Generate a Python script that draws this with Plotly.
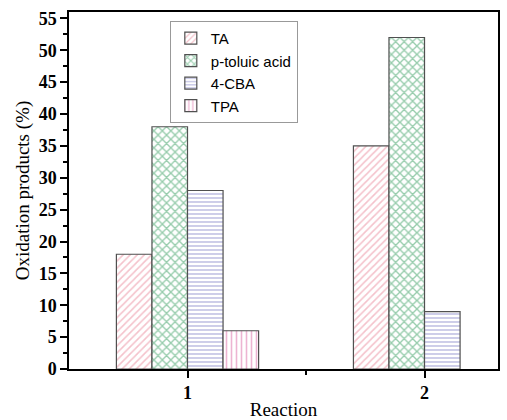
import plotly.graph_objects as go

reactions = [1, 2]
series_names = ["TA", "p-toluic acid", "4-CBA", "TPA"]
ta = [18, 35]
ptoluic = [38, 52]
cba = [28, 9]
tpa = [6, None]
y_ticks = [0, 5, 10, 15, 20, 25, 30, 35, 40, 45, 50, 55]

series_values = [ta, ptoluic, cba, tpa]
fg_colors = ["#e98598", "#2f9a5a", "#5a5ab5", "#dc6aa5"]
shapes = ["/", "x", "-", "|"]
sizes = [5, 6, 4, 5]
solid = [0.32, 0.4, 0.3, 0.32]

fig = go.Figure()
for name, vals, col, shp, sz, so in zip(series_names, series_values, fg_colors, shapes, sizes, solid):
    fig.add_trace(go.Bar(
        x=reactions, y=vals, name=name,
        marker=dict(color="white",
                    line=dict(color="#505050", width=1.2),
                    pattern=dict(shape=shp, fgcolor=col, bgcolor="white",
                                 size=sz, solidity=so, fillmode="overlay")),
    ))

tickfont = dict(family="Liberation Serif", size=18, color="black")
fig.update_layout(
    width=507, height=420,
    margin=dict(l=69, r=9, t=12, b=51),
    paper_bgcolor="white", plot_bgcolor="white",
    barmode="group", bargap=0.4, bargroupgap=0,
    showlegend=True,
    legend=dict(x=0.235, y=0.975, xanchor="left", yanchor="top",
                bgcolor="white", bordercolor="#999999", borderwidth=1,
                font=dict(family="Liberation Sans", size=15, color="black"),
                tracegroupgap=0, itemwidth=30),
    font=dict(family="Liberation Serif", color="black"),
)
fig.update_xaxes(
    range=[0.5, 2.31], tickvals=reactions, ticktext=[f"<b>{r}</b>" for r in reactions],
    tickfont=tickfont, automargin=False,
    ticks="outside", ticklen=7, tickwidth=1.5, tickcolor="black",
    minor=dict(tickvals=[1.5], ticks="outside", ticklen=4, tickwidth=1.5, tickcolor="black"),
    showline=True, linecolor="black", linewidth=1.5, mirror=True,
    showgrid=False, zeroline=False,
    title=dict(text="Reaction", font=dict(family="Liberation Serif", size=19, color="black"), standoff=9),
)
fig.update_yaxes(
    range=[0, 56], tickvals=y_ticks, ticktext=[f"<b>{v}</b>" for v in y_ticks],
    tickfont=tickfont, automargin=False,
    ticks="outside", ticklen=7, tickwidth=1.5, tickcolor="black",
    minor=dict(dtick=2.5, tick0=0, ticks="outside", ticklen=4, tickwidth=1.5, tickcolor="black"),
    showline=True, linecolor="black", linewidth=1.5, mirror=True,
    showgrid=False, zeroline=False,
    title=dict(text="Oxidation products (%)", font=dict(family="Liberation Serif", size=19, color="black"), standoff=4),
)

fig.write_html("out.html")
